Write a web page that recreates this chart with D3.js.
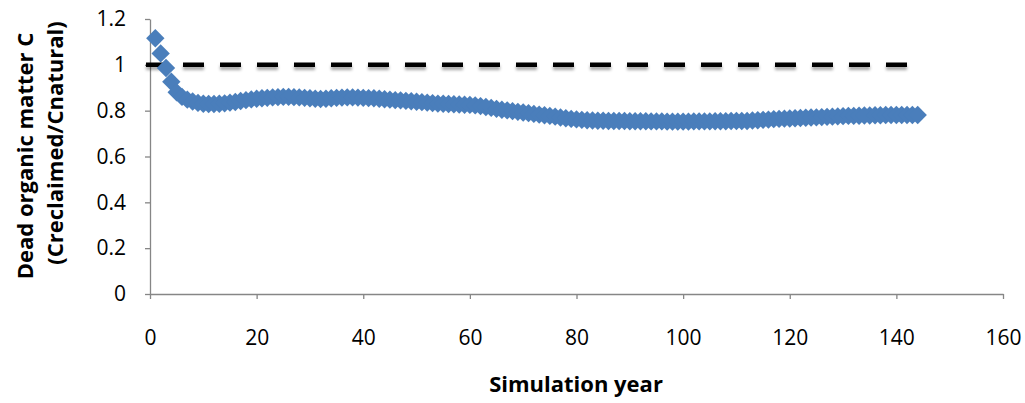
<!DOCTYPE html>
<html>
<head>
<meta charset="utf-8">
<script src="https://cdn.jsdelivr.net/npm/d3@7"></script>
<style>
  body { margin: 0; background: #fff; }
  text { font-family: "Open Sans", Lato, sans-serif; fill: #000; }
  .axis path, .axis line { stroke: #868686; }
  .axis text { font-size: 21px; }
</style>
</head>
<body>
<svg id="chart" width="1025" height="403"></svg>
<script>
// simulation years 1..144
const years = d3.range(1, 145);

// Creclaimed / Cnatural
const ratio = [
  1.116, 1.050, 0.986, 0.926, 0.880, 0.860, 0.848, 0.840, 0.834, 0.830,
  0.829, 0.829, 0.830, 0.832, 0.835, 0.838, 0.842, 0.846, 0.849, 0.852,
  0.854, 0.856, 0.858, 0.859, 0.860, 0.860, 0.859, 0.858, 0.856, 0.854,
  0.852, 0.851, 0.852, 0.854, 0.856, 0.857, 0.858, 0.858, 0.857, 0.856,
  0.855, 0.854, 0.852, 0.850, 0.848, 0.846, 0.845, 0.843, 0.841, 0.839,
  0.837, 0.835, 0.833, 0.831, 0.830, 0.829, 0.828, 0.827, 0.826, 0.825,
  0.823, 0.820, 0.816, 0.812, 0.808, 0.804, 0.801, 0.798, 0.795, 0.792,
  0.789, 0.786, 0.783, 0.780, 0.777, 0.774, 0.770, 0.767, 0.764, 0.762,
  0.760, 0.758, 0.757, 0.756, 0.756, 0.755, 0.755, 0.755, 0.755, 0.754,
  0.754, 0.754, 0.754, 0.753, 0.753, 0.753, 0.752, 0.752, 0.752, 0.752,
  0.752, 0.753, 0.753, 0.753, 0.753, 0.754, 0.754, 0.754, 0.755, 0.755,
  0.755, 0.755, 0.757, 0.758, 0.760, 0.761, 0.763, 0.764, 0.765, 0.766,
  0.767, 0.768, 0.769, 0.770, 0.771, 0.772, 0.773, 0.774, 0.775, 0.776,
  0.777, 0.777, 0.778, 0.779, 0.779, 0.780, 0.780, 0.781, 0.781, 0.781,
  0.781, 0.781, 0.781, 0.781
];

const xTicks = [0, 20, 40, 60, 80, 100, 120, 140, 160];
const yTicks = [0, 0.2, 0.4, 0.6, 0.8, 1, 1.2];
const reference = 1;   // reclaimed == natural
const refEnd = 144;

const svg = d3.select("#chart");

const x = d3.scaleLinear().domain([0, 160]).range([150, 1003]);
const y = d3.scaleLinear().domain([0, 1.2]).range([294, 19]);

// shadow for the dashed line
const defs = svg.append("defs");
const f = defs.append("filter").attr("id", "shadow")
  .attr("filterUnits", "userSpaceOnUse")
  .attr("x", 0).attr("y", 0).attr("width", 1025).attr("height", 403);
f.append("feDropShadow").attr("dx", 0).attr("dy", 3).attr("stdDeviation", 1.8)
  .attr("flood-color", "#000").attr("flood-opacity", 0.35);

// axes
svg.append("g")
  .attr("class", "axis")
  .attr("transform", "translate(0," + y(0) + ")")
  .call(d3.axisBottom(x).tickValues(xTicks).tickSizeInner(5).tickSizeOuter(0).tickPadding(31)
    .tickFormat(d3.format("d")));

svg.append("g")
  .attr("class", "axis")
  .attr("transform", "translate(" + x(0) + ",0)")
  .call(d3.axisLeft(y).tickValues(yTicks).tickSizeInner(5).tickSizeOuter(0).tickPadding(19)
    .tickFormat(d => d3.format("")(+d.toFixed(1))));

svg.selectAll(".axis path").attr("stroke-width", 1.3);
svg.selectAll(".axis line").attr("stroke-width", 1.3);
svg.selectAll(".axis text").attr("fill", "#000");

// dashed reference line at 1
svg.append("line")
  .attr("x1", x(0) - 4).attr("x2", x(refEnd))
  .attr("y1", y(reference)).attr("y2", y(reference))
  .attr("stroke", "#000")
  .attr("stroke-width", 4.5)
  .attr("stroke-dasharray", "21,16")
  .attr("filter", "url(#shadow)");

// diamond markers
const diamond = d3.symbol().type(d3.symbolDiamond2).size(215);
svg.append("g")
  .selectAll("path")
  .data(years.map((yr, i) => ({ yr: yr, v: ratio[i] })))
  .join("path")
  .attr("d", diamond)
  .attr("transform", d => "translate(" + x(d.yr) + "," + y(d.v) + ")")
  .attr("fill", "#4a7ebb");

// axis titles
svg.append("text")
  .attr("x", 576).attr("y", 392)
  .attr("text-anchor", "middle")
  .style("font-weight", "bold").style("font-size", "22px")
  .text("Simulation year");

svg.append("text")
  .attr("transform", "translate(33,156) rotate(-90)")
  .attr("text-anchor", "middle")
  .style("font-weight", "bold").style("font-size", "22px")
  .text("Dead organic matter C");

svg.append("text")
  .attr("transform", "translate(63,143) rotate(-90)")
  .attr("text-anchor", "middle")
  .style("font-weight", "bold").style("font-size", "22px")
  .text("(Creclaimed/Cnatural)");
</script>
</body>
</html>
